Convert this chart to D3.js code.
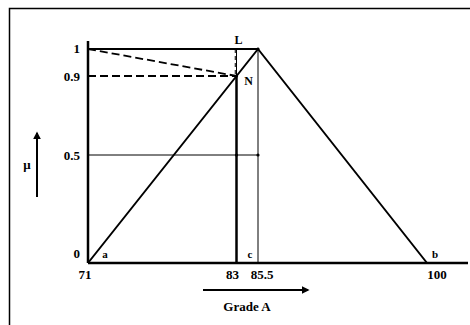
<!DOCTYPE html>
<html><head><meta charset="utf-8">
<script src="https://cdn.jsdelivr.net/npm/d3@7"></script>
<style>body{margin:0;background:#fff}svg{display:block}text{font-family:"Liberation Serif","Times New Roman",serif;font-weight:bold;fill:#000}</style>
</head><body><svg id="c" width="470" height="325"></svg>
<script>
// ---- data ----
const xTicks = [71, 83, 85.5, 100];
const xTickLabels = ["71", "83", "85.5", "100"];
const yTicks = [0, 0.5, 0.9, 1];
const yTickLabels = ["0", "0.5", "0.9", "1"];
const triangleX = [71, 85.5, 100];      // a, c, b
const triangleY = [0, 1, 0];
const pointNames = ["a", "c", "b"];
const cutX = 83;       // vertical at 83 (L to base)
const cutLevel = 0.9;  // N level
const halfLevel = 0.5;
const xTitle = "Grade A";
const yTitle = "\u03bc";

const svg = d3.select("#c");
const x = d3.scaleLinear().domain([71, 83, 85.5, 100]).range([88, 236.5, 258, 427]);
const y = d3.scaleLinear().domain([0, 0.5, 0.9, 1]).range([263, 155, 76, 49]);
const line = d3.line().x(d => x(d[0])).y(d => y(d[1]));

// outer frame
svg.append("rect").attr("x", 9.5).attr("y", 8.5).attr("width", 480).attr("height", 340)
  .attr("fill", "none").attr("stroke", "#000").attr("stroke-width", 1.5);

// y axis
svg.append("line").attr("x1", x(71)).attr("x2", x(71)).attr("y1", y(1) - 8).attr("y2", y(0))
  .attr("stroke", "#000").attr("stroke-width", 2.5);
// x axis
svg.append("line").attr("x1", x(71)).attr("x2", 468).attr("y1", y(0)).attr("y2", y(0))
  .attr("stroke", "#000").attr("stroke-width", 2.5);

// top line at mu=1
svg.append("path").attr("d", line([[71, 1], [85.5, 1]])).attr("stroke", "#000").attr("stroke-width", 2).attr("fill", "none");
// 0.5 line
svg.append("path").attr("d", line([[71, halfLevel], [85.5, halfLevel]])).attr("stroke", "#000").attr("stroke-width", 1).attr("fill", "none");
// vertical at 85.5 (thin)
svg.append("path").attr("d", line([[85.5, 0], [85.5, 1]])).attr("stroke", "#000").attr("stroke-width", 1).attr("fill", "none");
// vertical at 83: thin from L to N, thick below
svg.append("path").attr("d", line([[cutX, 1], [cutX, cutLevel]])).attr("stroke", "#000").attr("stroke-width", 1).attr("fill", "none");
svg.append("path").attr("d", line([[cutX, cutLevel], [cutX, 0]])).attr("stroke", "#000").attr("stroke-width", 2.5).attr("fill", "none");
// dashed
svg.append("path").attr("d", line([[71, 1], [cutX, cutLevel]])).attr("stroke", "#000").attr("stroke-width", 1.8)
  .attr("stroke-dasharray", "8,4").attr("fill", "none");
svg.append("path").attr("d", line([[71, cutLevel], [cutX, cutLevel]])).attr("stroke", "#000").attr("stroke-width", 1.8)
  .attr("stroke-dasharray", "8,4").attr("fill", "none");
svg.append("path").attr("d", line([[cutX - 0.1, 1], [cutX - 0.1, cutLevel]])).attr("stroke", "#000").attr("stroke-width", 1)
  .attr("stroke-dasharray", "4,3").attr("fill", "none");

// triangle
svg.append("path").attr("d", line(triangleX.map((v, i) => [v, triangleY[i]])))
  .attr("stroke", "#000").attr("stroke-width", 2).attr("fill", "none");

// dots at intersections
const dots = [[cutX, halfLevel], [85.5, halfLevel], [85.5, 1], [cutX, cutLevel]];
svg.selectAll(".dot").data(dots).join("circle").attr("cx", d => x(d[0])).attr("cy", d => y(d[1])).attr("r", 1.6).attr("fill", "#000");

// x tick labels
const xOff = [-3, -4, 4, 10];
svg.selectAll(".xt").data(xTicks).join("text").attr("x", (d, i) => x(d) + xOff[i]).attr("y", 279)
  .attr("text-anchor", "middle").attr("font-size", 13).text((d, i) => xTickLabels[i]);
// y tick labels
const yOff = [-1, 5, 5, 4];
svg.selectAll(".yt").data(yTicks).join("text").attr("x", x(71) - 8).attr("y", (d, i) => y(d) + yOff[i] - (i === 0 ? 4 : 0))
  .attr("text-anchor", "end").attr("font-size", 13).text((d, i) => yTickLabels[i]);

// point labels
svg.selectAll(".pl").data(triangleX).join("text")
  .attr("x", (d, i) => x(d) + [17, -8, 8][i]).attr("y", y(0) - 5)
  .attr("text-anchor", "middle").attr("font-size", 11).text((d, i) => pointNames[i]);
svg.append("text").attr("x", x(cutX) + 2).attr("y", y(1) - 5).attr("text-anchor", "middle").attr("font-size", 12).text("L");
svg.append("text").attr("x", x(cutX) + 12).attr("y", y(cutLevel) + 9).attr("text-anchor", "middle").attr("font-size", 12).text("N");

// axis titles with arrows
svg.append("defs").append("marker").attr("id", "ah").attr("viewBox", "0 0 10 10").attr("refX", 8).attr("refY", 5)
  .attr("markerWidth", 4).attr("markerHeight", 4).attr("orient", "auto")
  .append("path").attr("d", "M0,0L10,5L0,10z").attr("fill", "#000");
svg.append("line").attr("x1", 203).attr("x2", 308).attr("y1", 290).attr("y2", 290)
  .attr("stroke", "#000").attr("stroke-width", 2).attr("marker-end", "url(#ah)");
svg.append("text").attr("x", 247).attr("y", 311).attr("text-anchor", "middle").attr("font-size", 13).text(xTitle);
svg.append("line").attr("x1", 37).attr("x2", 37).attr("y1", 197).attr("y2", 133)
  .attr("stroke", "#000").attr("stroke-width", 2).attr("marker-end", "url(#ah)");
svg.append("text").attr("x", 27).attr("y", 169).attr("text-anchor", "middle").attr("font-size", 13).text(yTitle);
</script></body></html>
